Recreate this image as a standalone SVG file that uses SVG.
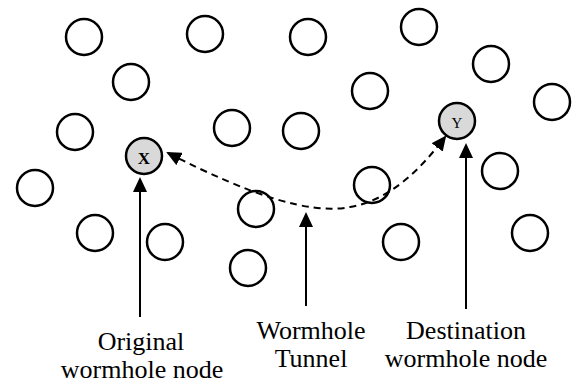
<svg xmlns="http://www.w3.org/2000/svg" width="578" height="385" viewBox="0 0 578 385">
  <style>
    .node { fill: #ffffff; stroke: #000000; stroke-width: 2.5; }
    .worm { fill: #d9d9d9; stroke: #000000; stroke-width: 2.5; }
    .pointer { fill: none; stroke: #000000; stroke-width: 2; }
    .tunnel { fill: none; stroke: #000000; stroke-width: 2; stroke-dasharray: 7 5; }
    .label { font-family: "Liberation Serif", "Times New Roman", serif; font-size: 26px; fill: #000000; text-anchor: middle; }
    .mark { font-family: "Liberation Serif", "Times New Roman", serif; fill: #000000; text-anchor: middle; }
  </style>
  <defs>
    <marker id="head" markerUnits="userSpaceOnUse" viewBox="0 0 15 14" markerWidth="15" markerHeight="14" refX="13" refY="7" orient="auto-start-reverse">
      <path d="M0,0 L15,7 L0,14 z" fill="#000000"/>
    </marker>
  </defs>

  <rect width="578" height="385" fill="#ffffff"/>

  <!-- ordinary sensor nodes -->
  <g id="nodes">
    <g id="n1"><circle class="node" cx="84" cy="37" r="18"/></g>
    <g id="n2"><circle class="node" cx="205" cy="34" r="18"/></g>
    <g id="n3"><circle class="node" cx="131" cy="82" r="18"/></g>
    <g id="n4"><circle class="node" cx="75" cy="132" r="18"/></g>
    <g id="n5"><circle class="node" cx="232" cy="128" r="18"/></g>
    <g id="n6"><circle class="node" cx="301" cy="131" r="18"/></g>
    <g id="n7"><circle class="node" cx="35" cy="188" r="18"/></g>
    <g id="n8"><circle class="node" cx="308" cy="37" r="18"/></g>
    <g id="n9"><circle class="node" cx="419" cy="27" r="18"/></g>
    <g id="n10"><circle class="node" cx="491" cy="64" r="18"/></g>
    <g id="n11"><circle class="node" cx="370" cy="91" r="18"/></g>
    <g id="n12"><circle class="node" cx="552" cy="102" r="18"/></g>
    <g id="n13"><circle class="node" cx="372" cy="185" r="18"/></g>
    <g id="n14"><circle class="node" cx="500" cy="171" r="18"/></g>
    <g id="n15"><circle class="node" cx="95" cy="233" r="18"/></g>
    <g id="n16"><circle class="node" cx="165" cy="242" r="18"/></g>
    <g id="n17"><circle class="node" cx="256" cy="209" r="18"/></g>
    <g id="n18"><circle class="node" cx="248" cy="268" r="18"/></g>
    <g id="n19"><circle class="node" cx="401" cy="242" r="18"/></g>
    <g id="n20"><circle class="node" cx="530" cy="233" r="18"/></g>
  </g>

  <!-- wormhole end points -->
  <g id="node-x">
    <circle class="worm" cx="144" cy="156" r="18"/>
    <text class="mark" x="144" y="164" font-size="17" font-weight="bold">X</text>
  </g>
  <g id="node-y">
    <circle class="worm" cx="457" cy="121" r="18"/>
    <text class="mark" x="457" y="128" font-size="15">Y</text>
  </g>

  <!-- connectors -->
  <g id="connectors">
    <path id="tunnel" class="tunnel" d="M168,153 C250,195 310,215 350,207 C390,200 420,170 445,137" marker-start="url(#head)" marker-end="url(#head)"/>
    <path class="pointer" d="M140,317 L140,179" marker-end="url(#head)"/>
    <path class="pointer" d="M306,306 L306,214" marker-end="url(#head)"/>
    <path class="pointer" d="M466,309 L466,145" marker-end="url(#head)"/>
  </g>

  <!-- labels -->
  <g id="labels">
    <text class="label" x="141" y="350">Original</text>
    <text class="label" x="142" y="378">wormhole node</text>
    <text class="label" x="311" y="339">Wormhole</text>
    <text class="label" x="311" y="367">Tunnel</text>
    <text class="label" x="466" y="339">Destination</text>
    <text class="label" x="466" y="367">wormhole node</text>
  </g>
</svg>
